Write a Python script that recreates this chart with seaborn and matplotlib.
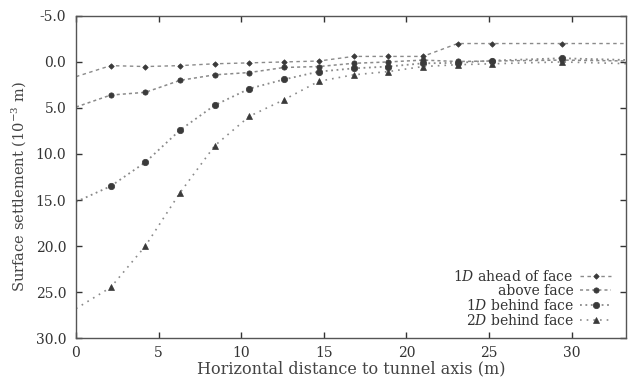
import numpy as np
import pandas as pd
import matplotlib
matplotlib.use("Agg")
import matplotlib.pyplot as plt
from matplotlib.ticker import FormatStrFormatter
import seaborn as sns

# ---- data ----
x_dist = [0.0, 2.1, 4.2, 6.3, 8.4, 10.5, 12.6, 14.7, 16.8, 18.9, 21.0, 23.1, 25.2, 29.4, 33.6]
ahead_1d = [1.6, 0.4, 0.5, 0.4, 0.2, 0.1, 0.0, -0.1, -0.6, -0.6, -0.6, -2.0, -2.0, -2.0, -2.0]
above = [4.9, 3.6, 3.3, 2.0, 1.4, 1.15, 0.6, 0.5, 0.15, 0.0, -0.2, -0.05, -0.1, -0.2, -0.1]
behind_1d = [15.2, 13.5, 10.9, 7.4, 4.7, 2.9, 1.9, 1.05, 0.7, 0.5, 0.15, 0.1, -0.15, -0.4, -0.2]
behind_2d = [26.8, 24.5, 20.0, 14.2, 9.1, 5.9, 4.1, 2.1, 1.4, 1.05, 0.5, 0.3, 0.2, 0.0, 0.2]

labels = [r"1$D$ ahead of face", "above face", r"1$D$ behind face", r"2$D$ behind face"]
series = [ahead_1d, above, behind_1d, behind_2d]
x_ticks = [0, 5, 10, 15, 20, 25, 30]
y_ticks = [-5, 0, 5, 10, 15, 20, 25, 30]

sns.set_style("ticks")
plt.rcParams["font.family"] = ["DejaVu Serif"]
plt.rcParams["mathtext.fontset"] = "dejavuserif"
plt.rcParams["axes.unicode_minus"] = False

fig = plt.figure(figsize=(6.28, 3.79), dpi=100)
ax = fig.add_axes([0.121, 0.108, 0.876, 0.850])

styles = [
    dict(marker="D", ms=2.8, ls=(0, (2.5, 2.5)), lw=1.0),
    dict(marker="o", ms=3.8, ls=(0, (2, 2)), lw=1.1),
    dict(marker="o", ms=4.6, ls=(0, (1, 2)), lw=1.3),
    dict(marker="^", ms=4.0, ls=(0, (1, 3)), lw=1.2),
]

for lab, vals, st in zip(labels, series, styles):
    df = pd.DataFrame({"x": x_dist, "y": vals})
    sns.lineplot(data=df, x="x", y="y", ax=ax, label=lab, color="#8a8a8a",
                 linestyle=st["ls"], linewidth=st["lw"], marker=st["marker"],
                 markersize=st["ms"], markerfacecolor="#3a3a3a",
                 markeredgecolor="#3a3a3a", markeredgewidth=0.5,
                 markevery=list(range(1, len(x_dist))), estimator=None)

ax.set_xlim(0, 33.3)
ax.set_ylim(30, -5)
ax.set_xticks(x_ticks)
ax.set_yticks(y_ticks)
ax.yaxis.set_major_formatter(FormatStrFormatter("%.1f"))
ax.tick_params(direction="in", top=True, right=True, length=4, width=1.0,
               labelsize=10, colors="#333333")
ax.tick_params(axis="y", pad=7)
ax.tick_params(axis="x", pad=6)
for s in ax.spines.values():
    s.set_color("#555555")
    s.set_linewidth(1.0)

ax.set_xlabel("Horizontal distance to tunnel axis (m)", fontsize=11.5, color="#444444", labelpad=0)
ax.set_ylabel(r"Surface settlement ($10^{-3}$ m)", fontsize=10.5, color="#444444")
ax.yaxis.set_label_coords(-0.087, 0.47)

leg = ax.legend(loc="lower right", bbox_to_anchor=(0.99, 0.0), frameon=False,
                markerfirst=False, fontsize=10, handlelength=2.2, handletextpad=0.5,
                labelspacing=0.0, borderpad=0.2)
for t in leg.get_texts():
    t.set_color("#333333")

fig.savefig("out.png", dpi=100)
